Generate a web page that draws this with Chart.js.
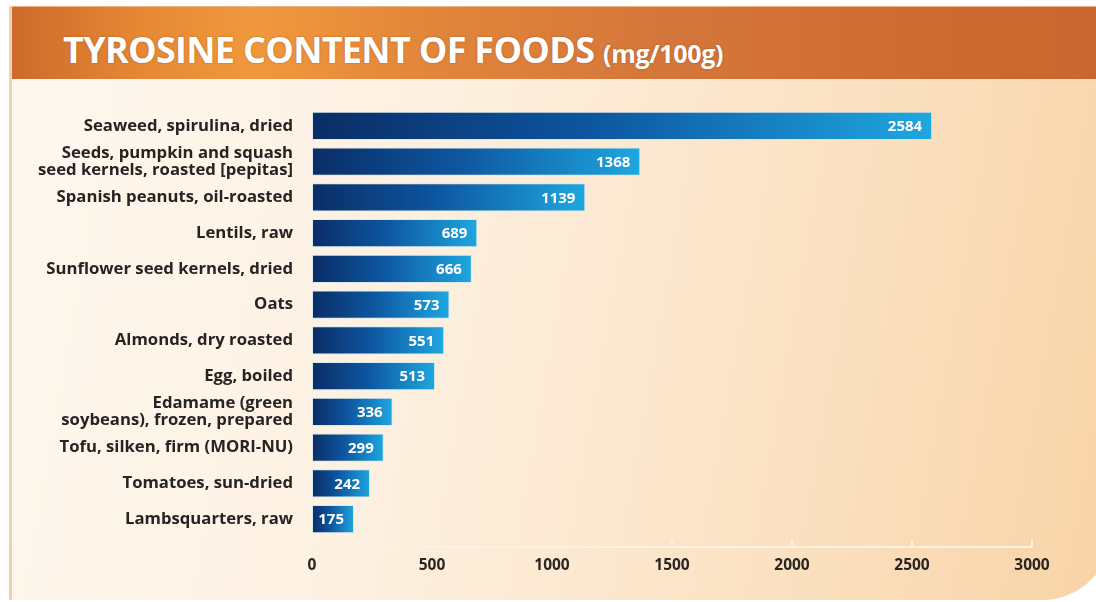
<!DOCTYPE html>
<html>
<head>
<meta charset="utf-8">
<script src="https://cdn.jsdelivr.net/npm/chart.js@4.4.1/dist/chart.umd.min.js"></script>
<style>
  html,body{margin:0;padding:0;background:#ffffff;}
  #wrap{position:relative;width:1096px;height:602px;overflow:hidden;background:#fff;}
  #panel{position:absolute;left:9px;top:6px;width:1100px;height:594px;
    border-bottom-right-radius:70px;
    background:linear-gradient(100deg,#fef8ef 0%,#fdf1e2 35%,#fbe2c3 70%,#f8d3a6 100%);
    border-left:3px solid #ecd2ad;}
  #band{position:absolute;left:0;top:0;right:0;height:72px;
    background:linear-gradient(90deg,#cd6a2b 0%,#e68935 12%,#f0983c 22%,#e0843a 40%,#d5763a 60%,#cc6a30 85%,#c96730 100%);
    border-top:1px solid #f0b080;}
  #title{position:absolute;left:63px;top:25px;color:#fff;font-family:"Open Sans",sans-serif;font-weight:700;
    font-size:36px;letter-spacing:-0.7px;white-space:nowrap;text-shadow:0 0 2px rgba(120,50,10,0.5);}
  #title small{font-size:25px;letter-spacing:-0.3px;}
  canvas{position:absolute;left:0;top:0;}
</style>
</head>
<body>
<div id="wrap">
  <div id="panel"><div id="band"></div></div>
  <div id="title">TYROSINE CONTENT OF FOODS <small>(mg/100g)</small></div>
  <canvas id="c" width="1096" height="602"></canvas>
</div>
<script>
const categories = [
  "Seaweed, spirulina, dried",
  ["Seeds, pumpkin and squash", "seed kernels, roasted [pepitas]"],
  "Spanish peanuts, oil-roasted",
  "Lentils, raw",
  "Sunflower seed kernels, dried",
  "Oats",
  "Almonds, dry roasted",
  "Egg, boiled",
  ["Edamame (green", "soybeans), frozen, prepared"],
  "Tofu, silken, firm (MORI-NU)",
  "Tomatoes, sun-dried",
  "Lambsquarters, raw"
];
const tyrosine = [2584, 1368, 1139, 689, 666, 573, 551, 513, 336, 299, 242, 175];
const xTicks = [0, 500, 1000, 1500, 2000, 2500, 3000];

function barGradient(context){
  const chart = context.chart;
  const area = chart.chartArea;
  if(!area) return '#0f5fa6';
  const xs = chart.scales.x;
  const v = context.raw;
  const x0 = xs.getPixelForValue(0);
  const x1 = xs.getPixelForValue(v);
  const g = chart.ctx.createLinearGradient(x0, 0, x1, 0);
  g.addColorStop(0, '#0a2d66');
  g.addColorStop(0.45, '#0d56a0');
  g.addColorStop(1, '#1ea7e0');
  return g;
}

const decor = {
  id: 'decor',
  afterDatasetsDraw(chart){
    const {ctx, chartArea, scales:{x}} = chart;
    const ay = chartArea.bottom + 10;
    ctx.save();
    ctx.strokeStyle = '#fdf1e0';
    ctx.lineWidth = 2;
    ctx.beginPath();
    ctx.moveTo(x.getPixelForValue(0), ay);
    ctx.lineTo(x.getPixelForValue(3000), ay);
    xTicks.forEach(t => {
      const px = x.getPixelForValue(t);
      ctx.moveTo(px, ay);
      ctx.lineTo(px, ay - 7);
    });
    ctx.stroke();
    const meta = chart.getDatasetMeta(0);
    ctx.fillStyle = '#ffffff';
    ctx.font = '700 15px "Open Sans", sans-serif';
    ctx.textAlign = 'right';
    ctx.textBaseline = 'middle';
    meta.data.forEach((bar, i) => {
      ctx.fillText(String(tyrosine[i]), bar.x - 10, bar.y + 1);
    });
    ctx.restore();
  }
};

new Chart(document.getElementById('c'), {
  type: 'bar',
  data: {
    labels: categories,
    datasets: [{
      data: tyrosine,
      backgroundColor: barGradient,
      borderColor: 'rgba(190,230,250,0.55)',
      borderWidth: 1,
      borderSkipped: false,
      categoryPercentage: 1,
      barPercentage: 0.79
    }]
  },
  options: {
    indexAxis: 'y',
    responsive: false,
    animation: false,
    layout: { padding: { top: 108, right: 64, bottom: 0, left: 0 } },
    plugins: { legend: { display: false }, tooltip: { enabled: false }, title: { display: false } },
    scales: {
      x: {
        min: 0, max: 3000,
        afterFit(s){ s.height = 65; },
        afterBuildTicks(s){ s.ticks = xTicks.map(v => ({value: v})); },
        grid: { display: false, drawTicks: false },
        border: { display: false },
        ticks: { color: '#2a2522', font: { family: '"Open Sans", sans-serif', weight: '700', size: 15.5 }, padding: 19, maxRotation: 0,
                 callback: v => String(v) }
      },
      y: {
        afterFit(s){ s.width = 312; },
        grid: { display: false, drawTicks: false },
        border: { display: false },
        ticks: { color: '#262322', font: { family: '"Open Sans", sans-serif', weight: '700', size: 16.7, lineHeight: 1.02 }, padding: 19, autoSkip: false }
      }
    }
  },
  plugins: [decor]
});
</script>
</body>
</html>
